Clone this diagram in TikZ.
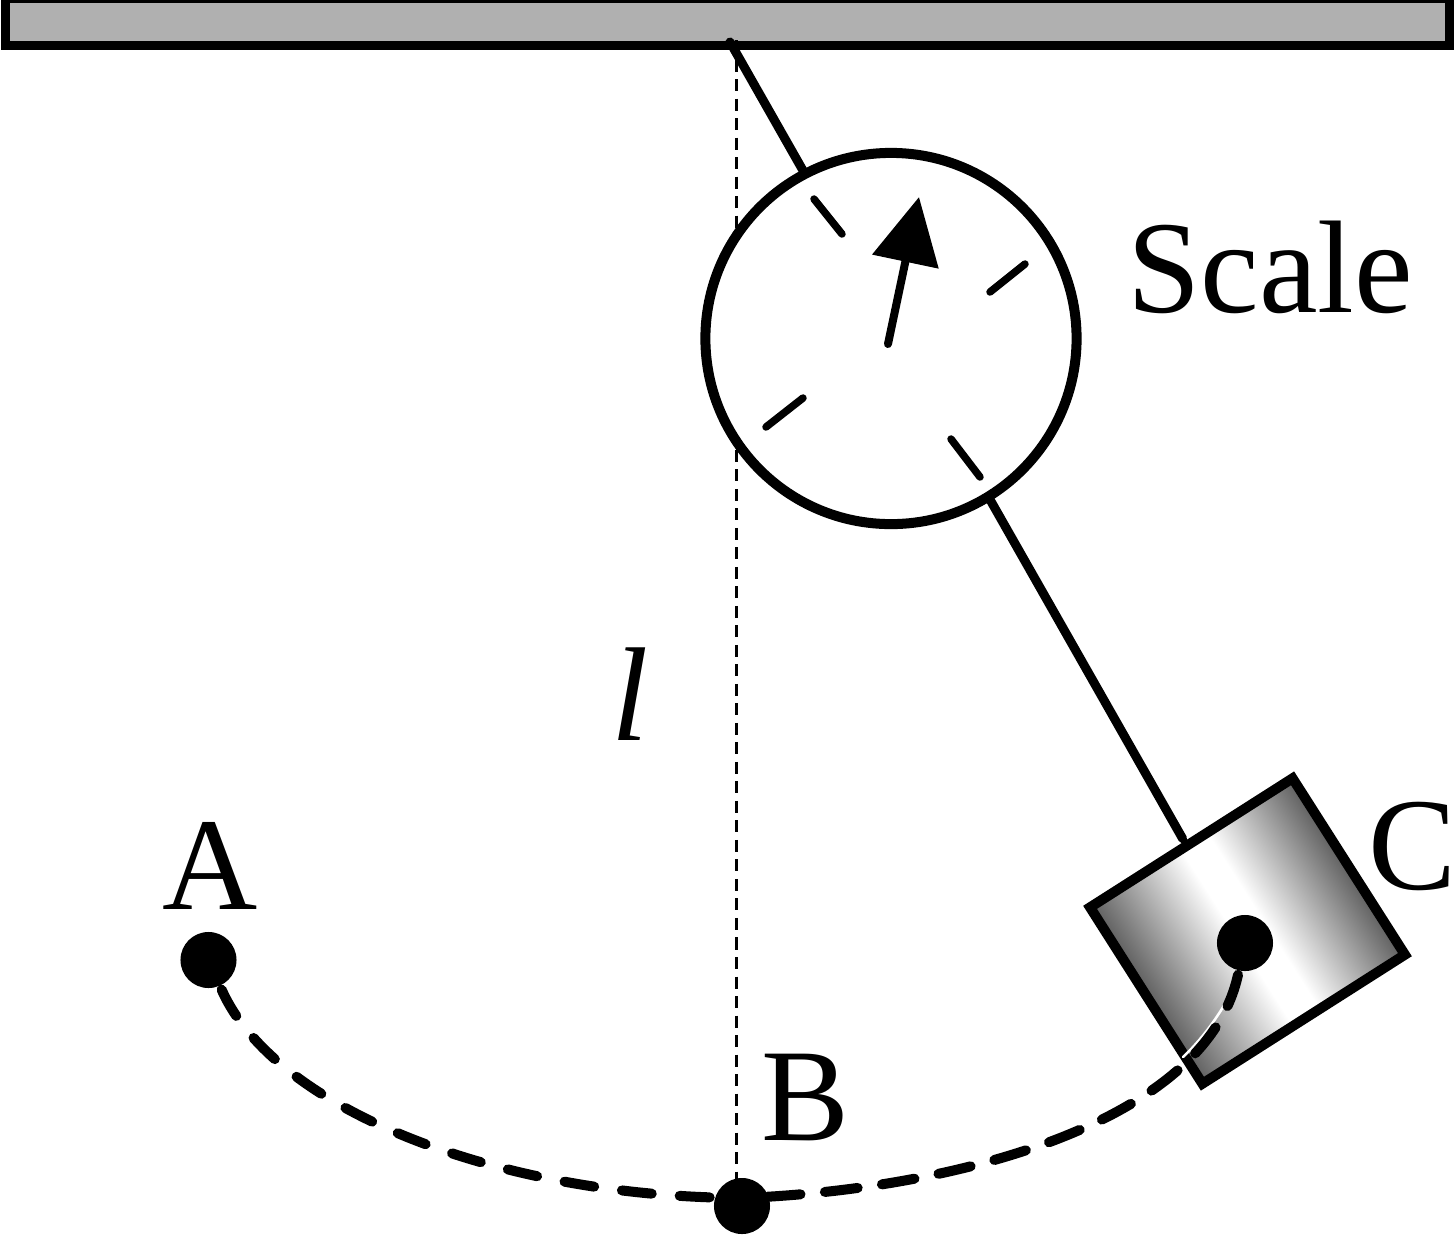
\documentclass[tikz,border=0pt]{standalone}
\usepackage{fontspec}
\setmainfont{Liberation Serif}
\usetikzlibrary{arrows.meta}
\pgfdeclarehorizontalshading{blockshade}{100bp}{
  color(0bp)=(black!55); color(25bp)=(black!55); color(31bp)=(black!62);
  color(48bp)=(white); color(53bp)=(white); color(69bp)=(black!62);
  color(75bp)=(black!55); color(100bp)=(black!55)}

\begin{document}
\begin{tikzpicture}[x=0.01cm,y=-0.01cm,line cap=round,line width=.09cm,
                    every node/.style={inner sep=0pt}]
  \tikzstyle{bob}=[circle,fill=black,minimum size=.56cm]
  \tikzstyle{label}=[font=\fontsize{37.5}{40}\selectfont]
  \tikzstyle{tick}=[line width=.075cm]

  \useasboundingbox (0,0) rectangle (1456,1235);

  \node[draw,fill=black!31,line cap=butt,minimum width=14.44cm,minimum height=.475cm] (ceiling) at (727.5,22) {};
  \coordinate (hook) at (730,42);
  \coordinate (top) at (736,40);

  \node[bob] (A) at (208.5,960) {};
  \node[bob] (B) at (742,1206) {};

  \node[draw,line width=.1cm,minimum width=2.40cm,minimum height=2.09cm,rotate=32.5,
        shading=blockshade,shading angle=32.5] (block) at (1247.5,931) {};
  \node[bob] (C) at (1245,943) {};

  \path (top) edge [line width=.03cm,line cap=butt,dash pattern=on .12cm off .075cm] (top |- B);
  \draw (hook) -- ([xshift=-.06cm]block.north);

  \coordinate (edge) at (1183,1057);
  \draw[white,line width=.025cm] (edge) .. controls (1212,1030) and (1235,990) .. (C);
  \draw[line width=.1cm,dash pattern=on .3cm off .28cm] (A)
        .. controls (275,1110) and (500,1197) .. ([yshift=.08cm]B.center);
  \draw[line width=.1cm,dash pattern=on .33cm off .245cm] (C)
        .. controls (1205,1125) and (950,1190) .. ([yshift=.08cm]B.center);

  \node[draw,circle,fill=white,line width=.1cm,minimum size=3.71cm] (scale) at (891,338.5) {};

  \draw[tick] (814,199) -- (842,234);
  \draw[tick] (1025,264) -- (990,292);
  \draw[tick] (766,427) -- (803,398);
  \draw[tick] (951,439) -- (980,477);

  \coordinate (pivot) at (888,344);
  \coordinate (tip) at (919,197);
  \draw[-{Triangle[length=.66cm,width=.66cm]},line width=.08cm] (pivot) -- (tip);

  \node[label] at (1270,267) {Scale};
  \node[label] at (210,866) {A};
  \node[label] at (805,1098) {B};
  \node[label] at (1412,846) {C};
  \node[font=\fontsize{38}{42}\selectfont\itshape] at (630,694) {l};
\end{tikzpicture}
\end{document}
